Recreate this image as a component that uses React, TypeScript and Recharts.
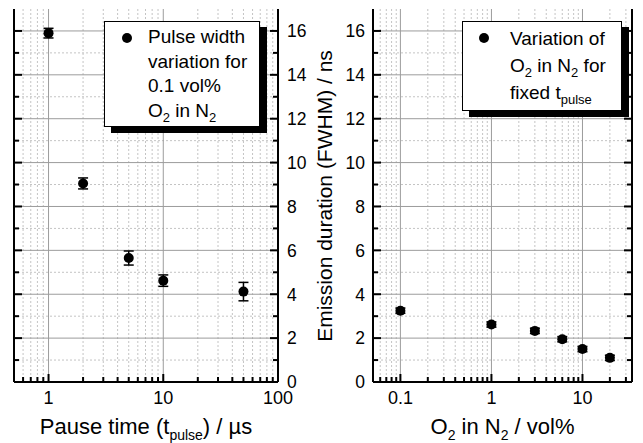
import React from 'react';
import {
  ScatterChart,
  Scatter,
  XAxis,
  YAxis,
  CartesianGrid,
  ErrorBar,
  Legend,
} from 'recharts';

// left panel: pulse width vs pause time (0.1 vol% O2 in N2)
const pauseTime = [1, 2, 5, 10, 50];
const pulseWidth = [15.9, 9.05, 5.65, 4.62, 4.12];
const pulseErr = [0.22, 0.25, 0.32, 0.26, 0.42];

// right panel: pulse width vs O2 concentration (fixed t_pulse)
const o2Conc = [0.1, 1, 3, 6, 10, 20];
const o2Width = [3.25, 2.62, 2.33, 1.95, 1.5, 1.1];
const o2Err = [0.12, 0.12, 0.12, 0.12, 0.12, 0.12];

const yTicks = [0, 1, 2, 3, 4, 5, 6, 7, 8, 9, 10, 11, 12, 13, 14, 15, 16];
const yMajor = [2, 4, 6, 8, 10, 12, 14, 16];
const yMinor = [1, 3, 5, 7, 9, 11, 13, 15];

const leftXMajor = [1, 10, 100];
const leftXMinor = [0.6, 0.7, 0.8, 0.9, 2, 3, 4, 5, 6, 7, 8, 9, 20, 30, 40, 50, 60, 70, 80, 90];
const rightXMajor = [0.1, 1, 10];
const rightXMinor = [0.06, 0.07, 0.08, 0.09, 0.2, 0.3, 0.4, 0.5, 0.6, 0.7, 0.8, 0.9, 2, 3, 4, 5, 6, 7, 8, 9, 20, 30];

const leftData = pauseTime.map((x, i) => ({ x, y: pulseWidth[i], err: pulseErr[i] }));
const rightData = o2Conc.map((x, i) => ({ x, y: o2Width[i], err: o2Err[i] }));

const FONT = '"Liberation Sans", Arial, sans-serif';
const AXIS = { stroke: '#000', strokeWidth: 2 };

const isDecade = (v: number) => Math.abs(Math.log10(v) - Math.round(Math.log10(v))) < 1e-6;

function xTick(side: 'bottom' | 'top', label: boolean) {
  return (p: any) => {
    const v = p.payload.value;
    const major = isDecade(v);
    const len = major ? 8 : 5;
    const dir = side === 'bottom' ? -1 : 1;
    return (
      <g>
        <line x1={p.x} y1={p.y} x2={p.x} y2={p.y + dir * len} stroke="#000" strokeWidth={2} />
        {label && major && (
          <text x={p.x} y={p.y + 22} textAnchor="middle" fontSize={18} fontFamily={FONT} fill="#000">
            {String(v)}
          </text>
        )}
      </g>
    );
  };
}

function yTick(side: 'left' | 'right', label: 'start' | 'end' | null) {
  return (p: any) => {
    const v = p.payload.value;
    const major = v % 2 === 0;
    const len = major ? 8 : 5;
    const dir = side === 'left' ? 1 : -1;
    return (
      <g>
        <line x1={p.x} y1={p.y} x2={p.x + dir * len} y2={p.y} stroke="#000" strokeWidth={2} />
        {label && major && (
          <text
            x={label === 'start' ? p.x + 9 : p.x - 8}
            y={p.y}
            dy="0.36em"
            textAnchor={label}
            fontSize={17.5}
            fontFamily={FONT}
            fill="#000"
          >
            {String(v)}
          </text>
        )}
      </g>
    );
  };
}

const dot = (p: any) => <circle cx={p.cx} cy={p.cy} r={5} fill="#000" />;

const subStyle: React.CSSProperties = { fontSize: 13, verticalAlign: '-5px', lineHeight: 0 };

function LegendBox({ left, width, height, lines, textLeft, lineHeight }: any) {
  return (
    <div
      style={{
        position: 'relative',
        boxSizing: 'border-box',
        width,
        height,
        background: '#fff',
        border: '1px solid #000',
        boxShadow: '7px 6px 0 #000',
        fontFamily: FONT,
        fontSize: 19,
        color: '#000',
        lineHeight: `${lineHeight}px`,
        paddingTop: 3,
        paddingLeft: textLeft,
      }}
    >
      <span
        style={{
          position: 'absolute',
          left: left - 5,
          top: 11,
          width: 10,
          height: 10,
          borderRadius: '50%',
          background: '#000',
        }}
      />
      {lines}
    </div>
  );
}

// axis title with subscripts: parts alternate normal / subscript
function xTitle(parts: string[]) {
  return (p: any) => {
    const vb = p.viewBox;
    return (
      <text x={vb.x + vb.width / 2} y={vb.y + 52} textAnchor="middle" fontSize={22} fontFamily={FONT} fill="#000">
        {parts.map((s, i) =>
          i % 2 === 1 ? (
            <tspan key={i} fontSize={14} dy={6}>
              {s}
            </tspan>
          ) : (
            <tspan key={i} dy={i === 0 ? 0 : -6}>
              {s}
            </tspan>
          )
        )}
      </text>
    );
  };
}

export default function App() {
  return (
    <div style={{ position: 'absolute', left: 0, top: 0, width: 643, height: 443, background: '#fff' }}>
      <div style={{ position: 'absolute', left: 0, top: 0 }}>
        <ScatterChart width={330} height={443} margin={{ top: 9, right: 0, bottom: 0, left: 0 }}>
          <CartesianGrid
            xAxisId="b"
            yAxisId="l"
            stroke="#c4c4c4"
            strokeDasharray="2 2"
            verticalValues={leftXMinor}
            horizontalValues={yMinor}
          />
          <CartesianGrid
            xAxisId="b"
            yAxisId="l"
            stroke="#9c9c9c"
            verticalValues={leftXMajor}
            horizontalValues={yMajor}
          />
          <XAxis
            xAxisId="b"
            dataKey="x"
            type="number"
            scale="log"
            domain={[0.5, 100]}
            allowDataOverflow
            ticks={[...leftXMinor, ...leftXMajor].sort((a, b) => a - b)}
            interval={0}
            height={61}
            tickSize={0}
            tickMargin={0}
            tickLine={false}
            axisLine={AXIS}
            tick={xTick('bottom', true)}
            label={{ content: xTitle(['Pause time (t', 'pulse', ') / µs']) }}
          />
          <XAxis
            xAxisId="t"
            orientation="top"
            type="number"
            scale="log"
            domain={[0.5, 100]}
            allowDataOverflow
            ticks={[...leftXMinor, ...leftXMajor].sort((a, b) => a - b)}
            interval={0}
            height={0}
            tickSize={0}
            tickMargin={0}
            tickLine={false}
            axisLine={AXIS}
            tick={xTick('top', false)}
          />
          <YAxis
            yAxisId="l"
            dataKey="y"
            type="number"
            domain={[0, 17]}
            allowDataOverflow
            ticks={yTicks}
            interval={0}
            width={14}
            tickSize={0}
            tickMargin={0}
            tickLine={false}
            axisLine={AXIS}
            tick={yTick('left', null)}
          />
          <YAxis
            yAxisId="r"
            orientation="right"
            type="number"
            domain={[0, 17]}
            allowDataOverflow
            ticks={yTicks}
            interval={0}
            width={52}
            tickSize={0}
            tickMargin={0}
            tickLine={false}
            axisLine={AXIS}
            tick={yTick('right', 'start')}
          />
          <Legend
            layout="vertical"
            align="center"
            verticalAlign="middle"
            wrapperStyle={{ left: 104, top: 21, width: 'auto' }}
            content={() => (
              <LegendBox
                left={22}
                width={156}
                height={106}
                textLeft={43}
                lineHeight={24.5}
                lines={
                  <>
                    <div>Pulse width</div>
                    <div>variation for</div>
                    <div>0.1 vol%</div>
                    <div>
                      O<span style={subStyle}>2</span> in N<span style={subStyle}>2</span>
                    </div>
                  </>
                }
              />
            )}
          />
          <Scatter
            xAxisId="b"
            yAxisId="l"
            data={leftData}
            fill="#000"
            shape={dot}
            isAnimationActive={false}
          >
            <ErrorBar dataKey="err" direction="y" width={5} stroke="#000" strokeWidth={1.5} isAnimationActive={false} />
          </Scatter>
        </ScatterChart>
      </div>

      <div
        style={{
          position: 'absolute',
          left: 325,
          top: 196,
          transform: 'translate(-50%, -50%) rotate(-90deg)',
          whiteSpace: 'nowrap',
          fontFamily: FONT,
          fontSize: 21,
          color: '#000',
          lineHeight: '24px',
        }}
      >
        Emission duration (FWHM) / ns
      </div>

      <div style={{ position: 'absolute', left: 330, top: 0 }}>
        <ScatterChart width={313} height={443} margin={{ top: 9, right: 0, bottom: 0, left: 0 }}>
          <CartesianGrid
            xAxisId="b"
            yAxisId="l"
            stroke="#c4c4c4"
            strokeDasharray="2 2"
            verticalValues={rightXMinor}
            horizontalValues={yMinor}
          />
          <CartesianGrid
            xAxisId="b"
            yAxisId="l"
            stroke="#9c9c9c"
            verticalValues={rightXMajor}
            horizontalValues={yMajor}
          />
          <XAxis
            xAxisId="b"
            dataKey="x"
            type="number"
            scale="log"
            domain={[0.05, 35]}
            allowDataOverflow
            ticks={[...rightXMinor, ...rightXMajor].sort((a, b) => a - b)}
            interval={0}
            height={61}
            tickSize={0}
            tickMargin={0}
            tickLine={false}
            axisLine={AXIS}
            tick={xTick('bottom', true)}
            label={{ content: xTitle(['O', '2', ' in N', '2', ' / vol%']) }}
          />
          <XAxis
            xAxisId="t"
            orientation="top"
            type="number"
            scale="log"
            domain={[0.05, 35]}
            allowDataOverflow
            ticks={[...rightXMinor, ...rightXMajor].sort((a, b) => a - b)}
            interval={0}
            height={0}
            tickSize={0}
            tickMargin={0}
            tickLine={false}
            axisLine={AXIS}
            tick={xTick('top', false)}
          />
          <YAxis
            yAxisId="l"
            dataKey="y"
            type="number"
            domain={[0, 17]}
            allowDataOverflow
            ticks={yTicks}
            interval={0}
            width={43}
            tickSize={0}
            tickMargin={0}
            tickLine={false}
            axisLine={AXIS}
            tick={yTick('left', 'end')}
          />
          <YAxis
            yAxisId="r"
            orientation="right"
            type="number"
            domain={[0, 17]}
            allowDataOverflow
            ticks={yTicks}
            interval={0}
            width={11}
            tickSize={0}
            tickMargin={0}
            tickLine={false}
            axisLine={AXIS}
            tick={yTick('right', null)}
          />
          <Legend
            layout="vertical"
            align="center"
            verticalAlign="middle"
            wrapperStyle={{ left: 132, top: 21, width: 'auto' }}
            content={() => (
              <LegendBox
                left={21}
                width={160}
                height={90}
                textLeft={47}
                lineHeight={27}
                lines={
                  <>
                    <div>Variation of</div>
                    <div>
                      O<span style={subStyle}>2</span> in N<span style={subStyle}>2</span> for
                    </div>
                    <div>
                      fixed t<span style={subStyle}>pulse</span>
                    </div>
                  </>
                }
              />
            )}
          />
          <Scatter
            xAxisId="b"
            yAxisId="l"
            data={rightData}
            fill="#000"
            shape={dot}
            isAnimationActive={false}
          >
            <ErrorBar dataKey="err" direction="y" width={5} stroke="#000" strokeWidth={1.5} isAnimationActive={false} />
          </Scatter>
        </ScatterChart>
      </div>
    </div>
  );
}
